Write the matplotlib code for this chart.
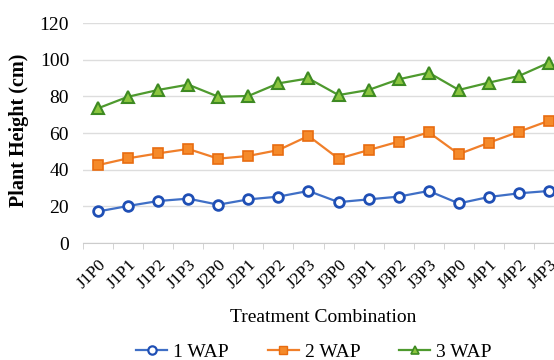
import matplotlib
matplotlib.use("Agg")
import matplotlib.pyplot as plt
from matplotlib.lines import Line2D

categories = ["J1P0", "J1P1", "J1P2", "J1P3", "J2P0", "J2P1", "J2P2", "J2P3",
              "J3P0", "J3P1", "J3P2", "J3P3", "J4P0", "J4P1", "J4P2", "J4P3"]
wap1 = [17.2, 20.2, 22.9, 24.2, 20.9, 23.8, 25.3, 28.4,
        22.3, 23.8, 25.3, 28.4, 21.6, 25.1, 27.1, 28.4]
wap2 = [42.5, 46.2, 48.9, 51.3, 46.0, 47.5, 50.7, 58.4,
        46.0, 50.7, 55.3, 60.4, 48.5, 54.7, 60.7, 66.7]
wap3 = [73.5, 79.8, 83.5, 86.4, 79.8, 80.2, 87.1, 89.8,
        80.7, 83.5, 89.3, 92.9, 83.5, 87.5, 91.1, 98.4]
series_labels = ["1 WAP", "2 WAP", "3 WAP"]
yticks = [0, 20, 40, 60, 80, 100, 120]

plt.rcParams['font.family'] = ['Liberation Serif', 'DejaVu Serif']

fig = plt.figure(figsize=(5.54, 3.6), dpi=100)
ax = fig.add_axes([83/554, 0.325, (564-83)/554, 0.936-0.325])

x = list(range(len(categories)))
blue, orange, green = "#3F6FC6", "#F07F2A", "#4E9A2E"
ax.plot(x, wap1, color=blue, lw=1.6, marker='o', ms=7, mfc='white',
        mec="#1F4FB5", mew=2, label=series_labels[0], zorder=3)
ax.plot(x, wap2, color=orange, lw=1.6, marker='s', ms=7, mfc="#F58A2A",
        mec="#E86C10", mew=1.2, label=series_labels[1], zorder=3)
ax.plot(x, wap3, color=green, lw=1.6, marker='^', ms=8, mfc="#8CC63F",
        mec="#3E8A22", mew=1.5, label=series_labels[2], zorder=3)

ax.set_xlim(-0.5, len(categories) - 0.5)
ax.set_ylim(0, 120)
ax.set_yticks(yticks)
ax.set_yticklabels([str(v) for v in yticks], fontsize=14)
ax.yaxis.grid(True, color="#DDDDDD", lw=1)
ax.set_axisbelow(True)
ax.tick_params(axis='y', length=0, pad=10)

ax.set_xticks(x)
ax.set_xticklabels(categories, rotation=45, ha='right', rotation_mode='anchor',
                   fontsize=12.5)
ax.set_xticks([i - 0.5 for i in range(len(categories) + 1)], minor=True)
ax.tick_params(axis='x', which='major', length=0, pad=10)
ax.tick_params(axis='x', which='minor', length=4, color="#CCCCCC")

for s in ['top', 'right', 'left']:
    ax.spines[s].set_visible(False)
ax.spines['bottom'].set_color("#CCCCCC")

fig.text(19/554, 1 - 130/360, "Plant Height (cm)", rotation=90, fontsize=14.5,
         fontweight='bold', ha='center', va='center')
fig.text(323/554, 1 - 317/360, "Treatment Combination", fontsize=14,
         ha='center', va='center')

handles = [
    Line2D([], [], color=blue, lw=1.6, marker='o', ms=6, mfc='white', mec="#1F4FB5", mew=1.6),
    Line2D([], [], color=orange, lw=1.6, marker='s', ms=6, mfc="#F58A2A", mec="#E86C10", mew=1),
    Line2D([], [], color=green, lw=1.6, marker='^', ms=6, mfc="#8CC63F", mec="#3E8A22", mew=1.2),
]
fig.legend(handles, series_labels, loc='center', bbox_to_anchor=(314/554, 1 - 352/360),
           ncol=3, frameon=False, fontsize=14, handlelength=1.6, columnspacing=2.0,
           handletextpad=0.3)

fig.savefig("out.png", dpi=100)
